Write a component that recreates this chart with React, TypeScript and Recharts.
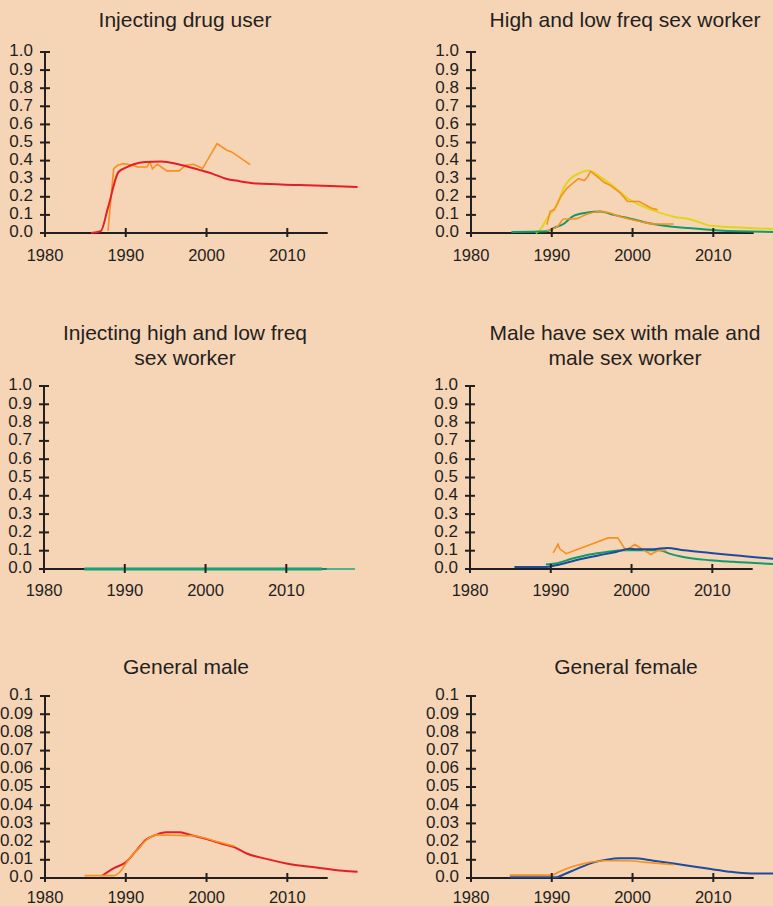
import React from "react";
import { LineChart, Line, XAxis, YAxis, ReferenceLine } from "recharts";

// x axis
const yearTicks = [1980, 1990, 2000, 2010];

// y axis, top four panels (proportion)
const fullTicks = [0, 0.1, 0.2, 0.3, 0.4, 0.5, 0.6, 0.7, 0.8, 0.9, 1.0];
const fullLabels = ["0.0", "0.1", "0.2", "0.3", "0.4", "0.5", "0.6", "0.7", "0.8", "0.9", "1.0"];

// y axis, general population panels
const smallTicks = [0, 0.01, 0.02, 0.03, 0.04, 0.05, 0.06, 0.07, 0.08, 0.09, 0.1];
const smallLabels = ["0.0", "0.01", "0.02", "0.03", "0.04", "0.05", "0.06", "0.07", "0.08", "0.09", "0.1"];

// Injecting drug user
const iduModel = [
  { year: 1985.7, v: 0 }, { year: 1986.9, v: 0.01 }, { year: 1987.8, v: 0.14 },
  { year: 1989.1, v: 0.337 }, { year: 1990, v: 0.361 }, { year: 1991, v: 0.38 },
  { year: 1992.4, v: 0.392 }, { year: 1994.4, v: 0.395 }, { year: 1996.5, v: 0.38 },
  { year: 1999, v: 0.35 }, { year: 2000.7, v: 0.328 }, { year: 2002.4, v: 0.3 },
  { year: 2004, v: 0.287 }, { year: 2006.3, v: 0.273 }, { year: 2011.5, v: 0.265 },
  { year: 2018.7, v: 0.254 },
];
const iduObserved = [
  { year: 1987.8, v: 0.012 }, { year: 1988.5, v: 0.356 }, { year: 1989, v: 0.374 },
  { year: 1989.7, v: 0.383 }, { year: 1990.2, v: 0.38 }, { year: 1990.8, v: 0.374 },
  { year: 1991.4, v: 0.365 }, { year: 1992.6, v: 0.365 }, { year: 1993, v: 0.392 },
  { year: 1993.3, v: 0.355 }, { year: 1993.9, v: 0.38 }, { year: 1995.1, v: 0.343 },
  { year: 1996.6, v: 0.343 }, { year: 1997.4, v: 0.374 }, { year: 1998.4, v: 0.38 },
  { year: 1999.5, v: 0.356 }, { year: 2001.3, v: 0.494 }, { year: 2002.5, v: 0.457 },
  { year: 2003.1, v: 0.448 }, { year: 2005.4, v: 0.378 },
];

// High and low freq sex worker
const fswHighModel = [
  { year: 1988, v: 0 }, { year: 1988.6, v: 0.02 }, { year: 1989.4, v: 0.08 },
  { year: 1990.7, v: 0.16 }, { year: 1991.5, v: 0.25 }, { year: 1992.3, v: 0.3 },
  { year: 1993.4, v: 0.33 }, { year: 1994.4, v: 0.345 }, { year: 1995.2, v: 0.335 },
  { year: 1996, v: 0.31 }, { year: 1997.7, v: 0.255 }, { year: 1999.8, v: 0.18 },
  { year: 2001.4, v: 0.145 }, { year: 2003.1, v: 0.117 }, { year: 2005.1, v: 0.09 },
  { year: 2007.2, v: 0.075 }, { year: 2009.7, v: 0.04 }, { year: 2012.6, v: 0.032 },
  { year: 2018.5, v: 0.02 },
];
const fswHighObserved = [
  { year: 1989.4, v: 0.046 }, { year: 1989.8, v: 0.12 }, { year: 1990.3, v: 0.128 },
  { year: 1991.1, v: 0.2 }, { year: 1991.9, v: 0.248 }, { year: 1992.7, v: 0.279 },
  { year: 1993.3, v: 0.3 }, { year: 1994, v: 0.29 }, { year: 1994.4, v: 0.308 },
  { year: 1994.8, v: 0.34 }, { year: 1995.4, v: 0.32 }, { year: 1996.5, v: 0.279 },
  { year: 1997.3, v: 0.262 }, { year: 1998.5, v: 0.22 }, { year: 1999.4, v: 0.174 },
  { year: 2000.8, v: 0.174 }, { year: 2002.3, v: 0.138 }, { year: 2003.1, v: 0.128 },
];
const fswLowModel = [
  { year: 1985, v: 0.005 }, { year: 1989.4, v: 0.009 }, { year: 1990.2, v: 0.027 },
  { year: 1991.5, v: 0.051 }, { year: 1992.7, v: 0.095 }, { year: 1994.4, v: 0.113 },
  { year: 1996, v: 0.119 }, { year: 1997.7, v: 0.1 }, { year: 2000.3, v: 0.073 },
  { year: 2001.9, v: 0.055 }, { year: 2004, v: 0.04 }, { year: 2006.9, v: 0.027 },
  { year: 2010.7, v: 0.014 }, { year: 2018.5, v: 0.005 },
];
const fswLowObserved = [
  { year: 1989.4, v: 0.014 }, { year: 1990.7, v: 0.035 }, { year: 1991.5, v: 0.077 },
  { year: 1992.7, v: 0.077 }, { year: 1993.1, v: 0.08 }, { year: 1994.4, v: 0.105 },
  { year: 1996, v: 0.119 }, { year: 1996.9, v: 0.113 }, { year: 1998.5, v: 0.09 },
  { year: 2001, v: 0.064 }, { year: 2002.7, v: 0.05 }, { year: 2005.1, v: 0.05 },
];

// Injecting high and low freq sex worker
const ifswHigh = [{ year: 1985, v: 0 }, { year: 2014.4, v: 0 }];
const ifswLow = [{ year: 1985, v: 0 }, { year: 2018.5, v: 0 }];

// Male have sex with male and male sex worker
const msmModel = [
  { year: 1985.5, v: 0.011 }, { year: 1989.4, v: 0.011 }, { year: 1990.6, v: 0.02 },
  { year: 1993.1, v: 0.048 }, { year: 1996, v: 0.075 }, { year: 1998.1, v: 0.093 },
  { year: 1999.8, v: 0.11 }, { year: 2000.6, v: 0.108 }, { year: 2002.7, v: 0.108 },
  { year: 2004.4, v: 0.115 }, { year: 2006.5, v: 0.102 }, { year: 2009.8, v: 0.088 },
  { year: 2012.7, v: 0.075 }, { year: 2018.5, v: 0.053 },
];
const mswModel = [
  { year: 1989.4, v: 0.024 }, { year: 1990.6, v: 0.03 }, { year: 1992.7, v: 0.057 },
  { year: 1994.8, v: 0.079 }, { year: 1996.9, v: 0.093 }, { year: 1999, v: 0.102 },
  { year: 2001, v: 0.102 }, { year: 2003.5, v: 0.102 }, { year: 2004.7, v: 0.084 },
  { year: 2006.4, v: 0.066 }, { year: 2009.7, v: 0.048 }, { year: 2012.6, v: 0.039 },
  { year: 2018.5, v: 0.025 },
];
const msmObserved = [
  { year: 1990.3, v: 0.088 }, { year: 1990.9, v: 0.135 }, { year: 1991.1, v: 0.11 },
  { year: 1991.9, v: 0.084 }, { year: 1997.1, v: 0.17 }, { year: 1998.3, v: 0.17 },
  { year: 1999.3, v: 0.102 }, { year: 2000.4, v: 0.134 }, { year: 2002.4, v: 0.079 },
  { year: 2003.3, v: 0.102 }, { year: 2004.3, v: 0.102 },
];

// General male
const maleModel = [
  { year: 1987.1, v: 0.0013 }, { year: 1988.6, v: 0.0055 }, { year: 1990, v: 0.0086 },
  { year: 1991.3, v: 0.015 }, { year: 1992.5, v: 0.021 }, { year: 1993.8, v: 0.0238 },
  { year: 1995, v: 0.0251 }, { year: 1996.6, v: 0.0251 }, { year: 1997.9, v: 0.0238 },
  { year: 1999.9, v: 0.0215 }, { year: 2002, v: 0.0187 }, { year: 2003.5, v: 0.0168 },
  { year: 2004.9, v: 0.0136 }, { year: 2007.4, v: 0.0105 }, { year: 2009.9, v: 0.008 },
  { year: 2013.6, v: 0.0058 }, { year: 2016.9, v: 0.004 }, { year: 2018.7, v: 0.0035 },
];
const maleObserved = [
  { year: 1984.9, v: 0.0013 }, { year: 1988.6, v: 0.0013 }, { year: 1989.2, v: 0.003 },
  { year: 1990.4, v: 0.0105 }, { year: 1991.7, v: 0.0168 }, { year: 1992.7, v: 0.0215 },
  { year: 1993.8, v: 0.0237 }, { year: 1995.8, v: 0.0235 }, { year: 1998.3, v: 0.0232 },
  { year: 1999.9, v: 0.0218 }, { year: 2001.6, v: 0.0196 }, { year: 2003.5, v: 0.0174 },
];

// General female
const femaleModel = [
  { year: 1984.8, v: 0.0004 }, { year: 1990.6, v: 0.0004 }, { year: 1991.4, v: 0.0018 },
  { year: 1993.1, v: 0.005 }, { year: 1995.2, v: 0.0086 }, { year: 1996.8, v: 0.0101 },
  { year: 1998.5, v: 0.0108 }, { year: 2000.1, v: 0.0108 }, { year: 2002.6, v: 0.0095 },
  { year: 2005.1, v: 0.008 }, { year: 2008.4, v: 0.0058 }, { year: 2011.7, v: 0.0036 },
  { year: 2014.6, v: 0.0025 }, { year: 2018.5, v: 0.0025 },
];
const femaleObserved = [
  { year: 1984.8, v: 0.0016 }, { year: 1990, v: 0.0016 }, { year: 1991, v: 0.0036 },
  { year: 1992.7, v: 0.0064 }, { year: 1994.7, v: 0.0086 }, { year: 1996.4, v: 0.0095 },
  { year: 1999.3, v: 0.0095 }, { year: 2001.8, v: 0.0086 }, { year: 2005.1, v: 0.0073 },
];

const BG = "#f6d4b6";
const INK = "#231f20";
const RED = "#e41f26";
const ORANGE = "#f7901e";
const YELLOW = "#e2d41a";
const GREEN = "#0e9c6c";
const BLUE = "#1d4c9c";
const FONT = "'Liberation Sans', Arial, Helvetica, sans-serif";

type Pt = { year: number; v: number };
type Series = { data: Pt[]; color: string; width: number; curve: "monotone" | "linear" };

function makeXTick(labelDy: number) {
  return function XTick(props: any) {
    const { x, y, payload } = props;
    return (
      <g>
        <line x1={x} x2={x} y1={y - 5} y2={y + 4} stroke={INK} strokeWidth={2} />
        <text x={x} y={y + labelDy} textAnchor="middle" dominantBaseline="middle" fill={INK} fontSize={16.5} fontFamily={FONT}>
          {payload.value}
        </text>
      </g>
    );
  };
}

function makeYTick(ticks: number[], labels: string[]) {
  return function YTick(props: any) {
    const { x, y, payload } = props;
    const i = ticks.indexOf(payload.value);
    return (
      <g>
        <line x1={x - 5} x2={x + 5} y1={y} y2={y} stroke={INK} strokeWidth={2} />
        <text x={x - 12} y={y} textAnchor="end" dominantBaseline="middle" fill={INK} fontSize={17} fontFamily={FONT}>
          {i >= 0 ? labels[i] : payload.value}
        </text>
      </g>
    );
  };
}

function Panel(props: {
  left: number;
  top: number;
  axisW: number;
  plotH: number;
  labelDy: number;
  ticks: number[];
  labels: string[];
  yMax: number;
  series: Series[];
}) {
  const { left, top, axisW, plotH, labelDy, ticks, labels, yMax, series } = props;
  const width = axisW + 316;
  const YTick = makeYTick(ticks, labels);
  const XTick = makeXTick(labelDy);
  return (
    <div style={{ position: "absolute", left, top }}>
      <LineChart width={width} height={12 + plotH + 34} margin={{ top: 12, right: 1, left: 0, bottom: 0 }}>
        <XAxis
          type="number"
          dataKey="year"
          domain={[1980, 2019]}
          ticks={yearTicks}
          interval={0}
          axisLine={false}
          tickLine={false}
          tickSize={0}
          tickMargin={0}
          height={34}
          tick={<XTick />}
        />
        <YAxis
          type="number"
          domain={[0, yMax]}
          ticks={ticks}
          interval={0}
          width={axisW}
          tickLine={false}
          tickSize={0}
          tickMargin={0}
          axisLine={{ stroke: INK, strokeWidth: 2 }}
          tick={<YTick />}
        />
        <ReferenceLine
          segment={[{ x: 1980, y: 0 }, { x: 2015, y: 0 }]}
          stroke={INK}
          strokeWidth={2}
        />
        {series.map((s, i) => (
          <Line
            key={i}
            data={s.data}
            dataKey="v"
            type={s.curve}
            stroke={s.color}
            strokeWidth={s.width}
            dot={false}
            activeDot={false}
            isAnimationActive={false}
          />
        ))}
      </LineChart>
    </div>
  );
}

function Title({ cx, top, lines }: { cx: number; top: number; lines: string[] }) {
  return (
    <div
      style={{
        position: "absolute",
        left: cx - 200,
        top,
        width: 400,
        textAlign: "center",
        fontFamily: FONT,
        fontSize: 21,
        lineHeight: "25px",
        color: INK,
      }}
    >
      {lines.map((l, i) => (
        <div key={i}>{l}</div>
      ))}
    </div>
  );
}

export default function App() {
  return (
    <div
      style={{
        position: "fixed",
        left: 0,
        top: 0,
        width: 773,
        height: 906,
        overflow: "hidden",
        background: BG,
      }}
    >
      <Title cx={185} top={7} lines={["Injecting drug user"]} />
      <Title cx={625} top={7} lines={["High and low freq sex worker"]} />
      <Title cx={185} top={320} lines={["Injecting high and low freq", "sex worker"]} />
      <Title cx={625} top={320} lines={["Male have sex with male and", "male sex worker"]} />
      <Title cx={186} top={654} lines={["General male"]} />
      <Title cx={626} top={654} lines={["General female"]} />

      <Panel
        left={0}
        top={40}
        axisW={45}
        plotH={181}
        labelDy={24}
        ticks={fullTicks}
        labels={fullLabels}
        yMax={1}
        series={[
          { data: iduObserved, color: ORANGE, width: 1.6, curve: "linear" },
          { data: iduModel, color: RED, width: 2, curve: "monotone" },
        ]}
      />
      <Panel
        left={400}
        top={40}
        axisW={71}
        plotH={181}
        labelDy={24}
        ticks={fullTicks}
        labels={fullLabels}
        yMax={1}
        series={[
          { data: fswHighModel, color: YELLOW, width: 2, curve: "monotone" },
          { data: fswLowModel, color: GREEN, width: 2, curve: "monotone" },
          { data: fswHighObserved, color: ORANGE, width: 1.6, curve: "linear" },
          { data: fswLowObserved, color: ORANGE, width: 1.6, curve: "monotone" },
        ]}
      />
      <Panel
        left={0}
        top={374}
        axisW={44}
        plotH={183}
        labelDy={23}
        ticks={fullTicks}
        labels={fullLabels}
        yMax={1}
        series={[
          { data: ifswHigh, color: GREEN, width: 3, curve: "linear" },
          { data: ifswLow, color: "#17a77a", width: 1.6, curve: "linear" },
        ]}
      />
      <Panel
        left={400}
        top={374}
        axisW={70}
        plotH={183}
        labelDy={23}
        ticks={fullTicks}
        labels={fullLabels}
        yMax={1}
        series={[
          { data: mswModel, color: GREEN, width: 2, curve: "monotone" },
          { data: msmObserved, color: ORANGE, width: 1.6, curve: "linear" },
          { data: msmModel, color: BLUE, width: 2, curve: "monotone" },
        ]}
      />
      <Panel
        left={0}
        top={684}
        axisW={45}
        plotH={182}
        labelDy={21}
        ticks={smallTicks}
        labels={smallLabels}
        yMax={0.1}
        series={[
          { data: maleModel, color: RED, width: 2, curve: "monotone" },
          { data: maleObserved, color: ORANGE, width: 1.6, curve: "monotone" },
        ]}
      />
      <Panel
        left={400}
        top={684}
        axisW={71}
        plotH={182}
        labelDy={21}
        ticks={smallTicks}
        labels={smallLabels}
        yMax={0.1}
        series={[
          { data: femaleModel, color: BLUE, width: 2, curve: "monotone" },
          { data: femaleObserved, color: ORANGE, width: 1.6, curve: "monotone" },
        ]}
      />
    </div>
  );
}
